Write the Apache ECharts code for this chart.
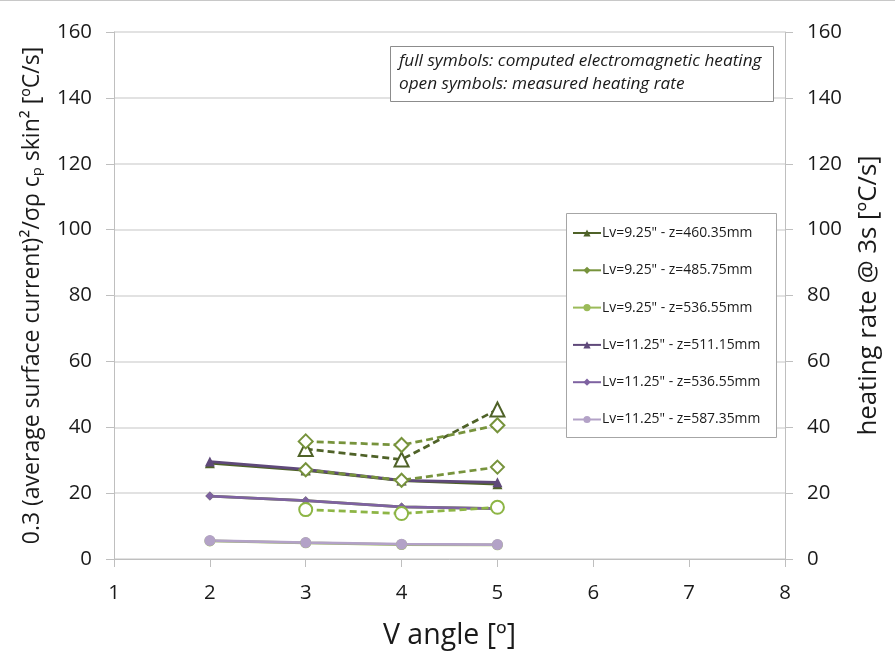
<!DOCTYPE html>
<html>
<head>
<meta charset="utf-8">
<script src="https://cdn.jsdelivr.net/npm/echarts@6/dist/echarts.min.js"></script>
<style>html,body{margin:0;padding:0;background:#fff}#c{width:895px;height:663px}</style>
</head>
<body>
<div id="c"></div>
<script>
// ---- data ----
const xComputed = [2, 3, 4, 5];
const xMeasured = [3, 4, 5];
const yTicks = [0, 20, 40, 60, 80, 100, 120, 140, 160];
const xTicks = [1, 2, 3, 4, 5, 6, 7, 8];

const names = [
  'Lv=9.25" - z=460.35mm',
  'Lv=9.25" - z=485.75mm',
  'Lv=9.25" - z=536.55mm',
  'Lv=11.25" - z=511.15mm',
  'Lv=11.25" - z=536.55mm',
  'Lv=11.25" - z=587.35mm'
];
// computed (full symbols)
const g460 = [29.1, 26.9, 23.8, 22.7];
const g485 = [19.1, 17.7, 15.8, 15.3];
const g536 = [5.5, 4.9, 4.4, 4.3];
const p511 = [29.6, 27.2, 23.9, 23.3];
const p536 = [19.1, 17.7, 15.8, 15.3];
const p587 = [5.6, 5.0, 4.5, 4.4];
// measured (open symbols)
const m460 = [33.4, 30.2, 45.4];
const m485a = [35.7, 34.6, 40.6];
const m485b = [27.1, 23.9, 27.9];
const m536 = [15.0, 13.8, 15.7];

const leftTitle = '0.3 (average surface current)²/σρ cₚ skin² [ºC/s]';
const rightTitle = 'heating rate @ 3s [ºC/s]';
const xTitle = 'V angle [º]';
const noteText = ['full symbols: computed electromagnetic heating', 'open symbols: measured heating rate'];

const pair = (xs, ys) => xs.map((x, i) => [x, ys[i]]);

const FONT = '"Open Sans", "Noto Sans", sans-serif';
// pick a font size so that a text reaches a target length
const ctx = document.createElement('canvas').getContext('2d');
function fit(text, target, style) {
  ctx.font = (style || '') + ' 100px ' + FONT;
  return Math.round(100 * target / ctx.measureText(text).width * 10) / 10;
}
const sLeft = Math.min(fit(leftTitle, 505), 23);
const sRight = fit(rightTitle, 280);
const sX = fit(xTitle, 133);
const sTick = fit('160', 35);
const sNote = fit(noteText[0], 362, 'italic');
const sLeg = fit(names[3], 158);

const C = {
  dkG: '#4f6228', g: '#77933c', ltG: '#9bbb59',
  dkP: '#5f497a', p: '#7e62a1', ltP: '#b3a2c7', openC: '#8db545'
};

function solid(name, data, color, symbol, size) {
  return {
    name, type: 'line', data: pair(xComputed, data), yAxisIndex: 0,
    symbol, symbolSize: size, showSymbol: true,
    lineStyle: { color, width: 2.75 }, itemStyle: { color },
    emphasis: { disabled: true }, z: 3
  };
}
function open(name, data, color, symbol, size) {
  return {
    name, type: 'line', data: pair(xMeasured, data), yAxisIndex: 1,
    symbol, symbolSize: size, showSymbol: true,
    lineStyle: { color, width: 2.75, type: [7, 4] },
    itemStyle: { color, borderColor: color, borderWidth: 3 },
    emphasis: { disabled: true }, z: 4
  };
}

const chart = echarts.init(document.getElementById('c'), null, { renderer: 'canvas' });
chart.setOption({
  animation: false,
  backgroundColor: '#fff',
  textStyle: { fontFamily: FONT },
  grid: { left: 114, right: 110, top: 32, bottom: 104, containLabel: false },
  xAxis: {
    type: 'value', min: xTicks[0], max: xTicks[xTicks.length - 1], interval: 1,
    name: xTitle, nameLocation: 'middle', nameGap: 60,
    nameTextStyle: { fontSize: sX, lineHeight: sX * 1.2, color: '#1a1a1a', fontFamily: FONT },
    axisLine: { show: true, lineStyle: { color: '#bfbfbf', width: 1 } },
    axisTick: { show: true, length: 8, lineStyle: { color: '#bfbfbf' } },
    axisLabel: { fontSize: sTick, color: '#1a1a1a', margin: 24, fontFamily: FONT },
    splitLine: { show: false }
  },
  yAxis: [
    {
      type: 'value', min: yTicks[0], max: yTicks[yTicks.length - 1], interval: 20,
      name: leftTitle,
      nameLocation: 'middle', nameGap: 66, nameRotate: 90,
      nameTextStyle: { fontSize: sLeft, lineHeight: sLeft * 1.2, color: '#1a1a1a', fontFamily: FONT },
      axisLine: { show: true, lineStyle: { color: '#bfbfbf' } },
      axisTick: { show: true, length: 8, lineStyle: { color: '#bfbfbf' } },
      axisLabel: { fontSize: sTick, color: '#1a1a1a', margin: 22, fontFamily: FONT },
      splitLine: { show: true, lineStyle: { color: '#d9d9d9', width: 1.5 } }
    },
    {
      type: 'value', min: yTicks[0], max: yTicks[yTicks.length - 1], interval: 20,
      position: 'right',
      name: rightTitle,
      nameLocation: 'middle', nameGap: 54, nameRotate: 90,
      nameTextStyle: { fontSize: sRight, lineHeight: sRight * 1.2, color: '#1a1a1a', fontFamily: FONT },
      axisLine: { show: true, lineStyle: { color: '#bfbfbf' } },
      axisTick: { show: true, length: 8, lineStyle: { color: '#bfbfbf' } },
      axisLabel: { fontSize: sTick, color: '#1a1a1a', margin: 22, fontFamily: FONT },
      splitLine: { show: false }
    }
  ],
  legend: {
    data: names,
    orient: 'vertical', left: 572, top: 225,
    padding: 0, itemGap: 21.3,
    itemWidth: 28, itemHeight: 9,
    textStyle: { fontSize: sLeg, lineHeight: 16, color: '#1a1a1a', fontFamily: FONT, padding: [0, 0, 0, -4] },
    selectedMode: false, z: 6
  },
  graphic: [
    {
      type: 'rect', z: 5, shape: { x: 566.5, y: 213.5, width: 210, height: 224 },
      style: { fill: '#fff', stroke: '#a6a6a6', lineWidth: 1 }
    },
    {
      type: 'rect', z: 5, shape: { x: 390.5, y: 46.5, width: 383, height: 55 },
      style: { fill: '#fff', stroke: '#8c8c8c', lineWidth: 1 }
    },
    {
      type: 'text', x: 399, y: 61, z: 6,
      style: { text: noteText[0], font: 'italic ' + sNote + 'px ' + FONT, fill: '#1a1a1a', verticalAlign: 'middle' }
    },
    {
      type: 'text', x: 399, y: 84, z: 6,
      style: { text: noteText[1], font: 'italic ' + sNote + 'px ' + FONT, fill: '#1a1a1a', verticalAlign: 'middle' }
    },
    {
      type: 'rect', z: 6, shape: { x: 0, y: 0, width: 895, height: 1 },
      style: { fill: '#c8c8c8' }
    }
  ],
  series: [
    solid(names[0], g460, C.dkG, 'triangle', 10),
    solid(names[1], g485, C.g, 'diamond', 9),
    solid(names[2], g536, C.ltG, 'circle', 11),
    solid(names[3], p511, C.dkP, 'triangle', 10),
    solid(names[4], p536, C.p, 'diamond', 9),
    solid(names[5], p587, C.ltP, 'circle', 11),
    open('meas 460.35', m460, C.dkG, 'emptyTriangle', 14),
    open('meas 485.75 a', m485a, C.g, 'emptyDiamond', 14),
    open('meas 485.75 b', m485b, C.g, 'emptyDiamond', 13),
    open('meas 536.55', m536, C.openC, 'emptyCircle', 13)
  ]
});
</script>
</body>
</html>
